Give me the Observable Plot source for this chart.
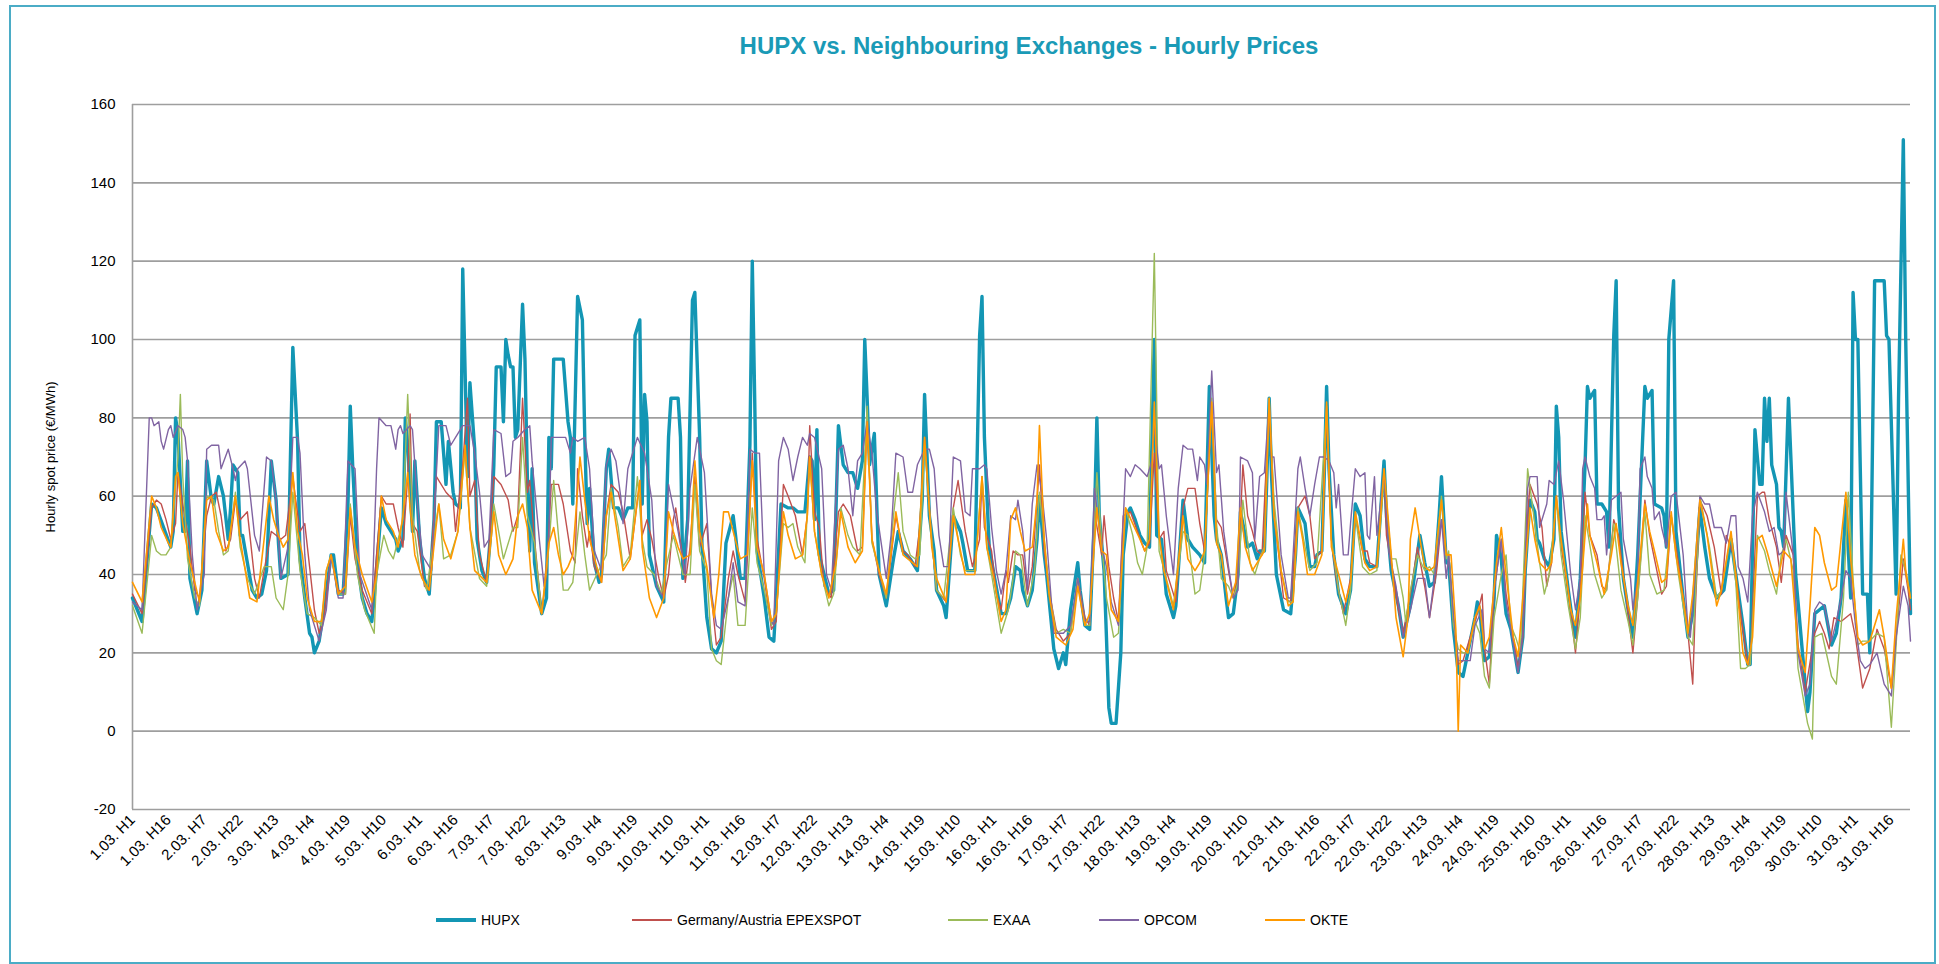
<!DOCTYPE html>
<html>
<head>
<meta charset="utf-8">
<script src="https://cdn.jsdelivr.net/npm/d3@7"></script>
<script src="https://cdn.jsdelivr.net/npm/@observablehq/plot@0.6"></script>
<style>
  html, body { margin: 0; padding: 0; background: #fff; }
  body { width: 1939px; height: 964px; position: relative; overflow: hidden; font-family: "Liberation Sans", Arial, sans-serif; }
  #frame { position: absolute; left: 9px; top: 5px; width: 1923px; height: 955px; border: 2px solid #4bacc6; pointer-events: none; }
  #title { position: absolute; left: 0; top: 30px; width: 2058px; text-align: center; font-size: 24px; line-height: 32px; font-weight: bold; color: #1a9ab6; }
  #chart { position: absolute; left: 0; top: 80px; }
  .leg { position: absolute; top: 910px; height: 20px; display: flex; align-items: center; font-size: 14px; color: #000; }
  .leg .sw { display: inline-block; width: 40px; margin-right: 5px; }
</style>
</head>
<body>
<div id="frame"></div>
<div id="title">HUPX vs. Neighbouring Exchanges - Hourly Prices</div>
<div id="chart"></div>
<div id="legend"></div>
<script>
// ---- Data: [hour index (0 = 1.03. H1), price €/MWh] ----
const hupx = [[0,34],[4,28],[8,58],[10,57],[13,52],[16,47],[17,51],[18,80],[19,76],[21,51],[22,51],[23,69],[24,39],[26,33],[27,30],[29,36],[31,69],[33,59],[34,58],[36,65],[38,60],[40,49],[41,57],[42,68],[44,66],[45,50],[46,50],[48,43],[50,36],[52,34],[54,35],[56,41],[58,69],[60,59],[61,48],[62,39],[65,40],[66,70],[67,98],[69,74],[70,44],[72,34],[74,25],[75,24],[76,20],[78,23],[80,31],[83,45],[84,45],[86,35],[88,35],[90,57],[91,83],[92,68],[94,43],[96,34],[98,30],[100,28],[101,34],[104,57],[106,53],[108,51],[110,49],[111,46],[113,49],[114,80],[115,73],[117,51],[118,69],[120,49],[122,39],[124,35],[126,54],[127,79],[129,79],[131,63],[132,74],[134,61],[135,58],[137,57],[138,118],[140,65],[141,89],[143,72],[144,49],[146,41],[148,38],[150,53],[151,68],[152,93],[154,93],[155,79],[156,100],[157,96],[158,93],[159,93],[160,75],[161,77],[163,109],[164,95],[165,65],[166,46],[167,67],[168,43],[171,30],[173,34],[174,75],[175,67],[176,95],[180,95],[182,79],[183,75],[184,58],[186,111],[188,105],[189,75],[190,53],[191,62],[193,43],[195,38],[196,40],[198,67],[199,72],[201,57],[203,57],[205,54],[207,57],[209,57],[210,101],[212,105],[213,58],[214,86],[215,79],[216,45],[219,37],[222,33],[224,75],[225,85],[228,85],[229,75],[230,39],[232,54],[234,110],[235,112],[237,75],[238,47],[240,29],[242,21],[244,20],[246,23],[248,48],[251,55],[252,50],[254,39],[256,39],[258,73],[259,120],[260,85],[261,46],[264,34],[266,24],[268,23],[269,34],[271,58],[274,57],[276,57],[278,56],[281,56],[283,70],[284,69],[285,54],[286,77],[287,45],[289,40],[291,35],[293,36],[295,78],[297,68],[299,66],[301,66],[303,62],[305,69],[306,100],[307,85],[308,68],[310,76],[312,40],[315,32],[318,44],[320,51],[322,46],[325,44],[328,41],[330,59],[331,86],[333,55],[335,46],[336,36],[339,32],[340,29],[343,55],[346,51],[347,48],[349,41],[352,41],[354,101],[355,111],[356,75],[358,47],[360,40],[363,30],[365,30],[367,34],[369,42],[371,41],[372,36],[374,32],[376,36],[378,49],[379,60],[381,45],[382,40],[385,21],[387,16],[389,20],[390,17],[392,31],[393,35],[395,43],[396,36],[398,27],[400,26],[402,55],[403,80],[404,55],[406,41],[407,24],[408,6],[409,2],[411,2],[413,20],[414,45],[416,56],[417,57],[419,54],[421,50],[423,48],[425,47],[427,100],[428,50],[430,49],[432,35],[435,29],[436,32],[439,59],[441,49],[443,47],[446,45],[448,43],[450,88],[452,55],[453,49],[455,45],[457,34],[458,29],[460,30],[462,40],[463,56],[466,47],[468,48],[470,44],[471,46],[473,46],[474,64],[475,85],[476,65],[478,40],[481,31],[484,30],[486,45],[487,57],[490,53],[492,42],[494,42],[495,45],[497,46],[498,65],[499,88],[500,67],[502,45],[504,35],[507,30],[509,36],[511,58],[513,55],[515,44],[517,42],[520,42],[523,69],[524,55],[526,41],[529,32],[531,24],[534,32],[536,41],[538,50],[540,43],[542,37],[544,38],[546,55],[547,65],[549,43],[550,43],[552,26],[554,15],[556,14],[558,20],[561,29],[562,33],[563,31],[565,18],[567,19],[569,34],[570,50],[572,44],[573,36],[574,30],[576,26],[579,15],[581,24],[582,41],[584,59],[586,56],[587,49],[588,48],[590,44],[592,42],[594,49],[595,83],[596,75],[597,51],[600,36],[602,27],[603,24],[605,39],[607,68],[608,88],[609,85],[611,87],[612,58],[614,58],[616,56],[617,47],[619,101],[620,115],[621,57],[623,39],[626,27],[627,24],[629,45],[632,88],[633,85],[635,87],[636,58],[639,57],[640,55],[641,47],[642,100],[644,115],[645,51],[648,34],[650,24],[652,30],[655,57],[657,47],[659,39],[662,34],[665,36],[668,49],[670,40],[673,27],[675,17],[676,17],[678,77],[680,63],[681,63],[682,85],[683,74],[684,85],[685,68],[687,63],[688,52],[689,51],[690,47],[692,85],[694,55],[695,40],[698,19],[700,5],[701,10],[703,30],[705,31],[707,32],[710,22],[712,25],[714,34],[716,59],[718,34],[719,112],[720,100],[721,100],[723,35],[725,35],[726,20],[728,115],[732,115],[733,101],[734,100],[737,35],[738,85],[740,151],[741,100],[743,30]];

const germanyAustria = [[0,35],[4,30],[8,57],[10,59],[12,58],[14,54],[16,49],[18,53],[19,66],[22,54],[24,47],[26,36],[28,34],[31,55],[33,60],[35,61],[37,55],[39,46],[41,49],[43,59],[45,54],[48,56],[51,39],[53,34],[55,41],[58,51],[60,50],[62,49],[64,50],[67,65],[68,60],[70,51],[72,53],[74,42],[76,31],[78,25],[80,29],[83,45],[86,36],[89,35],[91,55],[93,44],[96,36],[100,30],[102,45],[104,60],[106,58],[109,58],[111,52],[113,47],[115,65],[116,81],[117,53],[119,51],[122,37],[124,36],[127,65],[131,61],[134,59],[135,51],[138,68],[140,85],[141,60],[143,64],[145,45],[148,38],[151,65],[154,63],[157,59],[159,51],[161,55],[163,85],[165,61],[166,64],[168,49],[171,30],[173,40],[175,63],[178,63],[180,58],[183,46],[185,43],[186,67],[188,55],[190,47],[191,51],[193,42],[196,38],[198,55],[200,63],[203,61],[205,56],[208,44],[212,64],[213,50],[215,54],[217,49],[220,39],[222,34],[224,40],[226,54],[227,57],[230,44],[231,38],[233,47],[235,65],[237,47],[240,53],[242,34],[244,22],[246,24],[249,39],[251,46],[253,40],[256,33],[258,57],[259,71],[261,49],[264,39],[267,26],[269,28],[272,63],[274,60],[277,55],[280,45],[282,55],[283,78],[285,56],[287,52],[289,37],[292,34],[295,56],[297,58],[300,55],[303,46],[305,47],[307,81],[309,49],[312,40],[315,34],[319,55],[322,46],[324,45],[327,42],[329,52],[331,75],[334,49],[336,36],[340,33],[343,57],[345,64],[348,51],[351,42],[354,49],[355,65],[356,52],[359,46],[361,35],[363,31],[365,41],[366,38],[368,46],[370,45],[372,45],[374,35],[376,42],[378,59],[379,68],[381,46],[383,36],[386,26],[389,23],[392,25],[395,39],[398,29],[400,27],[402,56],[405,45],[406,55],[408,42],[410,34],[412,28],[414,55],[417,56],[420,51],[423,46],[425,48],[427,71],[429,49],[431,51],[432,41],[436,33],[439,57],[441,62],[444,62],[446,53],[448,46],[451,83],[453,54],[455,52],[458,41],[460,34],[462,40],[464,68],[466,55],[468,51],[470,46],[472,45],[475,84],[477,55],[479,45],[481,34],[484,33],[487,57],[490,60],[492,55],[494,44],[497,46],[499,83],[501,49],[503,39],[506,30],[509,39],[511,55],[514,46],[516,46],[517,43],[520,42],[523,67],[524,50],[527,39],[529,31],[531,25],[534,35],[537,47],[540,37],[542,29],[545,41],[547,54],[549,45],[550,45],[552,28],[554,17],[556,18],[559,24],[562,30],[564,35],[565,21],[567,12],[569,36],[572,49],[574,35],[577,24],[579,16],[581,24],[583,55],[584,63],[587,58],[589,52],[591,37],[593,43],[595,60],[597,47],[600,36],[603,20],[605,35],[607,61],[609,50],[612,45],[614,37],[616,36],[619,54],[621,50],[623,40],[627,20],[629,34],[632,59],[634,50],[636,44],[639,35],[641,37],[643,55],[646,43],[650,25],[652,12],[653,30],[655,59],[658,55],[661,47],[664,35],[666,50],[669,45],[672,30],[675,17],[676,17],[679,60],[681,61],[682,61],[684,54],[687,47],[689,38],[691,50],[694,45],[696,22],[699,10],[703,25],[705,28],[707,25],[709,21],[711,29],[714,28],[718,30],[720,24],[723,11],[726,16],[729,26],[732,21],[735,11],[737,24],[740,44],[742,36],[743,31]];

const exaa = [[0,32],[4,25],[8,50],[10,46],[12,45],[14,45],[16,47],[19,70],[20,86],[21,65],[23,44],[26,34],[28,32],[31,60],[34,59],[36,51],[38,45],[40,46],[43,61],[45,47],[48,39],[51,35],[55,42],[58,42],[60,34],[63,31],[65,40],[67,61],[70,41],[73,30],[76,29],[79,27],[81,41],[83,45],[86,35],[89,35],[91,58],[94,40],[97,31],[101,25],[102,40],[105,50],[107,46],[109,44],[111,49],[113,54],[115,86],[117,55],[120,41],[123,36],[126,50],[128,58],[130,44],[133,45],[136,51],[139,72],[141,52],[145,39],[148,37],[151,58],[155,44],[159,52],[161,52],[163,75],[165,55],[168,48],[171,30],[174,47],[176,64],[178,50],[180,36],[182,36],[184,38],[187,56],[189,45],[191,36],[194,40],[198,45],[200,62],[203,52],[205,42],[208,45],[211,65],[213,49],[215,42],[218,40],[221,35],[223,42],[226,50],[228,45],[230,40],[233,40],[235,63],[237,46],[240,41],[242,21],[244,18],[246,17],[249,34],[251,40],[253,27],[256,27],[259,57],[261,43],[264,36],[267,27],[269,30],[272,53],[274,52],[276,53],[278,47],[281,43],[283,70],[285,51],[288,40],[291,32],[293,35],[296,57],[299,50],[301,47],[304,45],[307,83],[309,48],[312,41],[315,34],[318,55],[320,66],[322,51],[325,45],[327,44],[329,45],[331,73],[334,49],[336,36],[339,34],[343,57],[346,45],[348,41],[352,41],[355,65],[357,47],[359,40],[363,25],[366,31],[368,39],[369,46],[371,45],[374,32],[377,41],[379,61],[381,49],[383,36],[386,25],[389,26],[392,25],[395,39],[398,27],[400,27],[403,66],[405,48],[407,34],[410,24],[412,25],[415,57],[418,50],[420,43],[422,40],[424,47],[427,122],[429,46],[432,39],[435,32],[439,51],[441,50],[444,35],[446,36],[448,45],[451,85],[453,53],[455,39],[458,37],[460,34],[462,38],[464,59],[467,43],[469,40],[471,44],[473,47],[475,85],[477,59],[480,41],[483,33],[485,33],[487,57],[490,47],[492,41],[495,43],[499,83],[501,49],[504,36],[507,27],[509,36],[511,55],[514,42],[517,40],[520,41],[523,65],[526,44],[528,44],[531,34],[532,28],[534,36],[537,45],[540,41],[542,42],[544,40],[547,60],[549,44],[550,46],[552,27],[554,21],[556,20],[558,20],[561,28],[563,25],[565,14],[567,11],[569,29],[572,40],[574,45],[576,27],[578,24],[580,20],[583,67],[586,53],[588,43],[590,35],[592,40],[595,59],[597,45],[600,32],[603,21],[605,29],[607,55],[611,40],[614,34],[616,36],[619,53],[622,36],[625,28],[627,22],[629,34],[632,56],[634,40],[637,35],[640,36],[643,55],[646,40],[650,24],[652,22],[654,45],[655,60],[659,47],[662,34],[664,36],[668,50],[670,38],[672,16],[674,16],[676,17],[679,50],[682,46],[684,41],[687,35],[689,45],[691,49],[694,41],[696,16],[700,2],[702,-2],[703,24],[706,25],[710,14],[712,12],[715,34],[717,61],[719,39],[721,22],[723,23],[726,23],[729,25],[732,24],[735,1],[737,22],[739,45],[741,41],[743,34]];

const opcom = [[0,33],[4,31],[7,80],[8,80],[9,78],[11,79],[12,74],[13,72],[15,77],[16,78],[17,75],[19,78],[21,77],[22,75],[23,69],[25,45],[27,31],[30,40],[31,72],[33,73],[36,73],[37,67],[40,72],[42,67],[43,64],[44,67],[47,69],[48,67],[51,50],[53,46],[56,70],[58,69],[60,59],[62,39],[65,47],[67,75],[69,75],[70,71],[72,45],[74,31],[78,23],[81,31],[83,45],[86,34],[88,34],[90,69],[93,67],[95,40],[100,31],[102,67],[103,80],[106,78],[108,78],[110,72],[111,77],[112,78],[113,76],[116,78],[117,77],[119,59],[121,45],[122,44],[125,41],[127,66],[128,78],[131,78],[133,73],[135,75],[138,78],[141,78],[143,71],[145,61],[147,47],[149,49],[151,77],[154,76],[156,65],[158,66],[159,74],[161,75],[164,77],[166,78],[167,69],[170,49],[172,37],[174,49],[175,75],[179,75],[181,75],[183,71],[184,75],[186,74],[189,75],[191,67],[193,46],[196,41],[198,68],[200,72],[202,69],[204,60],[205,53],[207,67],[211,75],[214,71],[217,59],[219,37],[222,34],[224,63],[226,57],[228,51],[231,40],[233,62],[236,75],[239,66],[242,35],[244,27],[246,26],[249,34],[251,43],[253,33],[256,32],[258,72],[260,71],[262,71],[264,40],[267,28],[268,27],[270,69],[272,75],[274,72],[276,64],[278,70],[280,75],[282,73],[283,76],[285,75],[288,67],[290,40],[292,36],[295,72],[297,73],[299,67],[301,55],[303,69],[305,71],[307,79],[309,71],[311,56],[315,39],[317,50],[319,71],[322,70],[324,61],[326,61],[328,68],[331,72],[333,72],[335,67],[337,50],[339,42],[341,42],[343,70],[346,69],[348,56],[350,55],[351,67],[354,67],[356,68],[357,67],[359,52],[361,41],[363,35],[365,41],[367,55],[369,54],[370,59],[372,51],[374,36],[376,58],[378,68],[380,61],[382,49],[385,25],[389,25],[392,27],[395,39],[398,28],[400,28],[402,62],[405,47],[407,42],[409,33],[412,27],[415,67],[417,65],[419,68],[421,67],[424,65],[426,69],[427,78],[429,67],[430,68],[432,55],[435,40],[437,62],[439,73],[441,72],[443,72],[445,64],[446,70],[448,68],[449,63],[451,92],[453,66],[454,68],[456,51],[458,42],[460,34],[462,36],[463,70],[466,69],[468,66],[469,49],[471,65],[473,66],[475,84],[476,70],[477,70],[480,45],[483,34],[484,34],[487,67],[488,70],[490,62],[492,55],[494,63],[496,70],[498,70],[500,69],[502,66],[503,57],[504,63],[506,45],[508,45],[509,53],[511,67],[513,65],[515,66],[516,50],[517,49],[519,65],[520,50],[523,66],[525,46],[528,37],[531,24],[534,31],[537,39],[540,39],[542,29],[545,44],[547,54],[549,39],[550,45],[552,30],[554,18],[556,18],[559,18],[561,27],[564,31],[565,21],[567,20],[569,36],[572,49],[574,33],[576,26],[579,15],[581,25],[583,62],[584,65],[587,65],[588,52],[591,58],[592,64],[594,63],[596,69],[598,59],[601,40],[603,31],[605,39],[606,67],[607,70],[609,65],[611,62],[612,54],[614,54],[615,55],[616,45],[618,59],[622,61],[623,49],[626,39],[627,31],[629,39],[630,67],[632,70],[633,65],[635,62],[636,54],[638,56],[639,52],[641,47],[643,60],[645,61],[648,45],[650,26],[651,24],[653,40],[655,60],[657,58],[659,58],[661,52],[664,52],[666,48],[668,55],[670,55],[671,42],[673,39],[675,33],[677,55],[679,61],[682,56],[684,51],[686,52],[688,45],[690,46],[691,61],[694,45],[696,20],[699,9],[701,12],[703,31],[705,33],[707,32],[710,23],[712,28],[714,34],[716,41],[718,39],[720,27],[722,18],[724,16],[726,17],[729,20],[732,12],[735,9],[737,24],[740,37],[742,32],[743,23]];

const okte = [[0,38],[4,33],[8,60],[10,57],[12,52],[15,48],[16,47],[18,65],[19,66],[21,53],[24,43],[28,33],[31,59],[33,60],[35,51],[38,46],[40,47],[43,60],[45,49],[49,34],[52,33],[55,49],[57,60],[59,54],[61,50],[63,47],[65,49],[67,66],[69,51],[71,45],[73,34],[76,28],[79,28],[81,41],[83,45],[86,35],[89,37],[91,57],[93,47],[96,40],[100,33],[102,40],[104,60],[106,54],[109,51],[111,47],[113,55],[115,66],[116,57],[118,45],[121,39],[124,36],[127,53],[128,58],[130,49],[133,44],[136,51],[139,73],[141,52],[143,41],[148,38],[151,56],[153,45],[156,40],[159,44],[161,55],[163,58],[165,52],[167,36],[171,30],[174,48],[176,52],[178,45],[180,40],[182,42],[184,45],[187,70],[189,59],[191,49],[194,42],[196,38],[198,55],[200,61],[203,49],[205,41],[208,44],[212,64],[213,47],[216,34],[219,29],[222,34],[224,56],[226,51],[228,47],[230,44],[233,45],[235,69],[237,51],[240,42],[243,29],[245,40],[247,56],[249,56],[251,51],[254,44],[257,45],[259,69],[261,47],[264,40],[267,28],[269,30],[272,56],[274,50],[277,44],[280,45],[282,55],[283,70],[285,51],[288,40],[291,34],[294,43],[296,56],[299,47],[302,43],[305,46],[307,79],[309,49],[312,41],[315,35],[319,56],[322,45],[324,44],[328,42],[331,75],[334,47],[336,39],[340,33],[343,55],[346,46],[348,40],[352,40],[355,65],[357,47],[360,39],[363,28],[365,31],[367,54],[369,57],[371,51],[373,46],[376,47],[378,59],[379,78],[381,49],[383,35],[386,24],[390,22],[393,26],[395,37],[398,27],[400,30],[403,57],[405,46],[407,45],[409,31],[412,28],[415,57],[418,53],[421,49],[423,46],[425,49],[427,84],[429,50],[431,41],[435,31],[439,55],[441,44],[444,41],[446,43],[448,46],[451,84],[453,48],[455,45],[458,32],[461,38],[463,57],[465,47],[468,41],[471,44],[473,46],[475,85],[477,55],[480,41],[483,32],[485,33],[487,56],[489,49],[491,40],[494,40],[497,45],[499,84],[501,47],[504,40],[507,33],[509,38],[511,56],[515,43],[517,41],[520,42],[523,67],[526,45],[528,29],[531,19],[533,29],[534,49],[536,57],[538,49],[540,42],[542,41],[544,42],[547,59],[549,45],[551,45],[553,26],[554,0],[555,22],[558,20],[561,29],[563,32],[565,21],[567,24],[570,43],[572,52],[574,40],[577,24],[579,19],[581,34],[584,57],[586,49],[588,43],[591,41],[593,43],[595,60],[597,49],[601,31],[603,27],[605,34],[608,58],[609,50],[612,43],[615,35],[618,45],[620,53],[622,43],[625,32],[627,27],[629,38],[632,58],[634,51],[636,46],[639,38],[641,39],[643,56],[645,45],[648,34],[650,25],[652,35],[655,59],[658,50],[662,32],[664,36],[668,51],[670,40],[673,20],[675,17],[677,24],[679,49],[681,50],[683,46],[687,37],[690,46],[693,44],[696,21],[699,15],[701,32],[703,52],[705,50],[707,43],[710,36],[712,37],[714,49],[716,61],[718,44],[721,24],[723,22],[726,23],[730,31],[732,24],[735,11],[737,29],[740,49],[741,41],[743,34]];

const seriesNames = ["HUPX", "Germany/Austria EPEXSPOT", "EXAA", "OPCOM", "OKTE"];
const seriesColors = ["#1396b4", "#c0504d", "#9bbb59", "#8064a2", "#ff9900"];
const seriesWidths = [3.4, 1.4, 1.4, 1.4, 1.6];
const seriesData = [hupx, germanyAustria, exaa, opcom, okte];

const tickHours = d3.range(0, 744, 15);
const tickLabels = ["1.03. H1","1.03. H16","2.03. H7","2.03. H22","3.03. H13","4.03. H4","4.03. H19","5.03. H10","6.03. H1","6.03. H16","7.03. H7","7.03. H22","8.03. H13","9.03. H4","9.03. H19","10.03. H10","11.03. H1","11.03. H16","12.03. H7","12.03. H22","13.03. H13","14.03. H4","14.03. H19","15.03. H10","16.03. H1","16.03. H16","17.03. H7","17.03. H22","18.03. H13","19.03. H4","19.03. H19","20.03. H10","21.03. H1","21.03. H16","22.03. H7","22.03. H22","23.03. H13","24.03. H4","24.03. H19","25.03. H10","26.03. H1","26.03. H16","27.03. H7","27.03. H22","28.03. H13","29.03. H4","29.03. H19","30.03. H10","31.03. H1","31.03. H16"];
const yTicks = [-20, 0, 20, 40, 60, 80, 100, 120, 140, 160];
const yLabel = "Hourly spot price (€/MWh)";

// ---- Build chart ----
const lineMarks = seriesData.map((data, i) =>
  Plot.line(data, {x: d => d[0], y: d => d[1], stroke: seriesColors[i], strokeWidth: seriesWidths[i], strokeLinejoin: "round", curve: "linear"})
);

const chart = Plot.plot({
  width: 1939,
  height: 825,
  marginLeft: 132,
  marginRight: 29,
  marginTop: 24,
  marginBottom: 96,
  style: {fontFamily: "'Liberation Sans', Arial, sans-serif", color: "#000", background: "transparent", overflow: "visible"},
  x: {domain: [0, 743], axis: null},
  y: {domain: [-20, 160], axis: null},
  marks: [
    Plot.gridY(yTicks, {stroke: "#9e9e9e", strokeOpacity: 1, strokeWidth: 1.6}),
    Plot.ruleX([0], {y1: -20, y2: 160, stroke: "#9e9e9e", strokeWidth: 1.6}),
    Plot.axisY(yTicks, {tickSize: 0, tickPadding: 17, fontSize: 15, tickFormat: d => String(d)}),
    Plot.axisX(tickHours, {tickSize: 0, tickPadding: 8, tickRotate: -45, fontSize: 15, tickFormat: d => tickLabels[tickHours.indexOf(d)]}),
    ...lineMarks,
    Plot.text([yLabel], {frameAnchor: "left", textAnchor: "middle", dx: -82, rotate: -90, fontSize: 13, fill: "#000"})
  ]
});
document.getElementById("chart").appendChild(chart);

// ---- Legend ----
const legendX = [436, 632, 948, 1099, 1265];
const legend = document.getElementById("legend");
seriesNames.forEach((name, i) => {
  const item = document.createElement("div");
  item.className = "leg";
  item.style.left = legendX[i] + "px";
  const sw = document.createElement("span");
  sw.className = "sw";
  sw.style.height = seriesWidths[i] + "px";
  sw.style.background = seriesColors[i];
  item.appendChild(sw);
  item.appendChild(document.createTextNode(name));
  legend.appendChild(item);
});
</script>
</body>
</html>
